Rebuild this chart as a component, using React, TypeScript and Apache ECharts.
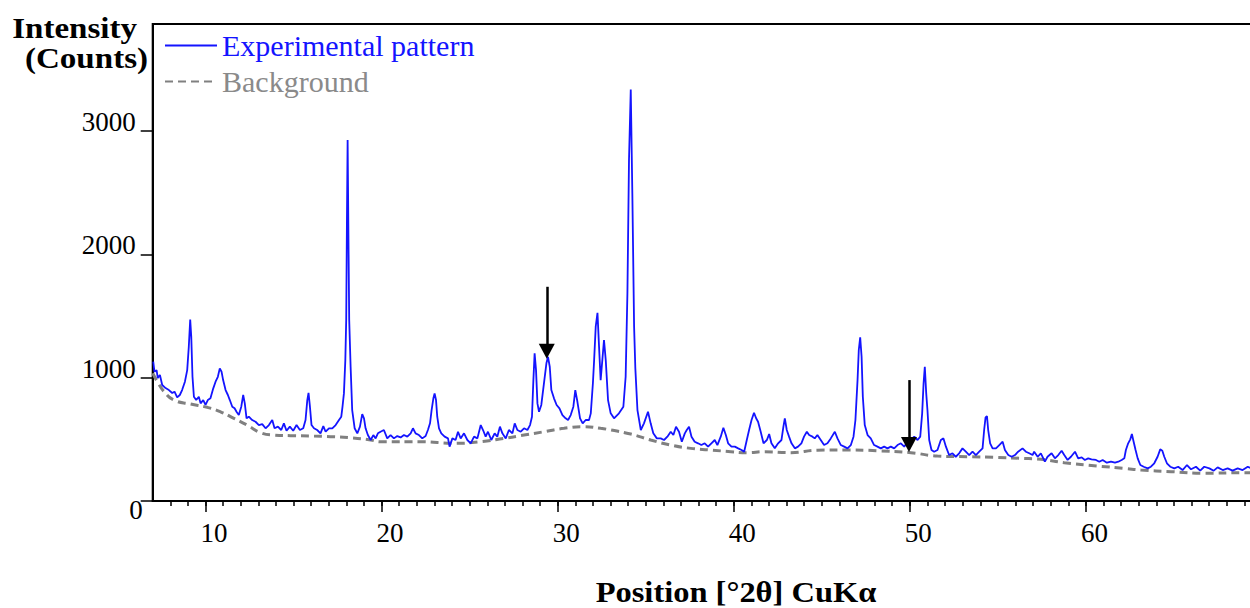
import { useEffect, useRef } from "react";
import * as echarts from "echarts";

// Measured diffraction pattern (2θ in degrees, intensity in counts)
const twoTheta = [
  7.03, 7.1, 7.22, 7.29, 7.41, 7.54, 7.73, 7.92, 8.11, 8.24, 8.39, 8.54, 8.67, 8.83, 8.96, 9.05, 9.13, 9.19, 9.26, 9.34,
  9.47, 9.62, 9.72, 9.87, 10.0, 10.13, 10.28, 10.44, 10.57, 10.7, 10.81, 10.91, 11.0, 11.14, 11.27, 11.38, 11.52, 11.65, 11.76, 11.89,
  12.03, 12.14, 12.23, 12.33, 12.46, 12.65, 12.84, 13.03, 13.22, 13.41, 13.6, 13.79, 13.92, 14.11, 14.3, 14.45, 14.6, 14.79, 14.98, 15.17,
  15.36, 15.55, 15.68, 15.78, 15.85, 15.93, 16.02, 16.16, 16.34, 16.53, 16.69, 16.82, 17.01, 17.2, 17.39, 17.58, 17.71, 17.78, 17.86, 17.94,
  17.99, 18.03, 18.07, 18.11, 18.16, 18.24, 18.33, 18.47, 18.62, 18.77, 18.9, 19.0, 19.09, 19.22, 19.38, 19.53, 19.66, 19.79, 19.94, 20.13,
  20.32, 20.51, 20.7, 20.89, 21.08, 21.27, 21.46, 21.65, 21.78, 21.93, 22.12, 22.31, 22.5, 22.63, 22.75, 22.84, 22.94, 23.01, 23.09, 23.16,
  23.26, 23.39, 23.58, 23.77, 23.86, 24.02, 24.2, 24.34, 24.49, 24.68, 24.87, 25.06, 25.25, 25.44, 25.63, 25.76, 25.91, 26.04, 26.23, 26.42,
  26.57, 26.72, 26.86, 27.05, 27.23, 27.43, 27.56, 27.71, 27.9, 28.09, 28.28, 28.43, 28.54, 28.62, 28.69, 28.77, 28.85, 28.94, 29.07, 29.22,
  29.36, 29.45, 29.55, 29.64, 29.79, 29.94, 30.1, 30.27, 30.45, 30.59, 30.74, 30.89, 31.0, 31.12, 31.27, 31.42, 31.59, 31.78, 31.88, 32.0,
  32.07, 32.16, 32.26, 32.35, 32.44, 32.54, 32.63, 32.73, 32.86, 33.01, 33.2, 33.48, 33.73, 33.86, 33.96, 34.05, 34.15, 34.24, 34.34, 34.41,
  34.53, 34.72, 34.9, 35.13, 35.28, 35.43, 35.63, 35.85, 36.04, 36.23, 36.42, 36.57, 36.72, 36.89, 37.05, 37.22, 37.33, 37.46, 37.6, 37.78,
  37.97, 38.16, 38.35, 38.54, 38.73, 38.92, 39.07, 39.26, 39.41, 39.55, 39.68, 39.87, 40.06, 40.25, 40.44, 40.59, 40.74, 40.87, 41.01, 41.15,
  41.27, 41.38, 41.53, 41.69, 41.88, 42.01, 42.14, 42.33, 42.52, 42.71, 42.82, 42.9, 43.01, 43.14, 43.28, 43.47, 43.65, 43.84, 43.99, 44.15,
  44.28, 44.47, 44.6, 44.75, 44.94, 45.13, 45.32, 45.51, 45.74, 45.89, 46.08, 46.27, 46.46, 46.65, 46.8, 46.91, 47.03, 47.1, 47.18, 47.26,
  47.33, 47.44, 47.6, 47.78, 47.97, 48.16, 48.35, 48.54, 48.73, 48.92, 49.11, 49.3, 49.49, 49.68, 49.87, 50.06, 50.25, 50.44, 50.59, 50.7,
  50.78, 50.85, 50.93, 51.0, 51.1, 51.23, 51.38, 51.57, 51.76, 51.91, 52.05, 52.23, 52.42, 52.61, 52.8, 52.99, 53.18, 53.37, 53.56, 53.75,
  53.94, 54.13, 54.22, 54.3, 54.38, 54.45, 54.56, 54.7, 54.89, 55.08, 55.27, 55.4, 55.59, 55.78, 55.97, 56.15, 56.4, 56.59, 56.78, 56.97,
  57.06, 57.26, 57.44, 57.67, 57.82, 58.05, 58.24, 58.43, 58.62, 58.77, 58.96, 59.15, 59.38, 59.56, 59.76, 59.94, 60.13, 60.32, 60.57, 60.76,
  60.95, 61.19, 61.42, 61.65, 61.84, 62.03, 62.18, 62.27, 62.4, 62.52, 62.61, 62.71, 62.82, 62.94, 63.09, 63.28, 63.51, 63.69, 63.88, 64.07,
  64.22, 64.34, 64.45, 64.6, 64.79, 65.02, 65.24, 65.49, 65.74, 65.97, 66.25, 66.49, 66.72, 67.01, 67.26, 67.48, 67.77, 68.05, 68.33, 68.62,
  68.9, 69.19, 69.38,
];

const counts = [
  1130, 1049, 1062, 997, 1022, 941, 916, 900, 876, 887, 841, 860, 900, 968, 1062, 1251, 1473, 1332, 1008, 846,
  819, 846, 792, 819, 779, 819, 833, 914, 968, 1008, 1076, 1049, 981, 900, 860, 819, 765, 752, 724, 697,
  765, 860, 792, 671, 684, 657, 643, 616, 624, 590, 616, 657, 590, 603, 576, 630, 570, 603, 570, 616,
  576, 590, 657, 819, 878, 765, 616, 590, 576, 549, 608, 562, 590, 590, 616, 657, 684, 765, 873, 1143,
  1468, 2250, 2928, 2250, 1468, 1089, 738, 590, 549, 603, 705, 671, 590, 535, 495, 535, 508, 549, 562, 576,
  508, 535, 508, 527, 516, 535, 522, 549, 590, 549, 535, 508, 527, 576, 630, 738, 833, 873, 819, 684,
  590, 549, 522, 508, 441, 508, 495, 562, 508, 549, 495, 468, 522, 508, 616, 576, 522, 562, 495, 549,
  522, 603, 549, 508, 576, 549, 630, 576, 562, 590, 576, 616, 684, 981, 1198, 1062, 792, 724, 779, 955,
  1117, 1170, 1089, 900, 833, 779, 752, 697, 671, 657, 697, 765, 900, 805, 671, 630, 657, 657, 711, 955,
  1143, 1414, 1527, 1250, 981, 1150, 1306, 1143, 819, 711, 671, 711, 765, 1008, 1684, 2766, 3339, 2495, 1414, 1076,
  738, 576, 630, 724, 630, 549, 508, 508, 495, 522, 562, 535, 603, 562, 481, 549, 576, 603, 522, 481,
  468, 454, 468, 441, 468, 495, 454, 522, 594, 535, 468, 441, 441, 427, 414, 400, 495, 576, 657, 716,
  671, 643, 562, 468, 495, 543, 468, 427, 468, 495, 603, 671, 576, 522, 468, 427, 441, 468, 522, 562,
  535, 522, 508, 535, 495, 454, 468, 508, 562, 508, 454, 441, 427, 454, 522, 657, 981, 1225, 1328, 1170,
  846, 616, 535, 508, 454, 441, 427, 441, 427, 441, 427, 454, 468, 441, 481, 495, 522, 495, 522, 711,
  955, 1089, 873, 738, 495, 414, 400, 414, 495, 508, 441, 373, 387, 359, 387, 427, 400, 373, 400, 373,
  400, 427, 576, 679, 689, 576, 468, 427, 427, 454, 481, 414, 373, 359, 373, 400, 427, 400, 387, 373,
  400, 359, 387, 319, 359, 387, 346, 373, 408, 373, 333, 359, 400, 346, 354, 333, 346, 338, 333, 319,
  333, 311, 319, 311, 319, 333, 346, 414, 468, 500, 543, 481, 414, 346, 292, 278, 265, 278, 306, 359,
  419, 408, 359, 306, 278, 265, 278, 251, 292, 257, 278, 246, 278, 265, 246, 273, 251, 265, 246, 265,
  251, 278, 265,
];

// Fitted background curve
const bgTheta = [
  7.0, 7.3, 7.63, 8.2, 9.15, 10.1, 10.85, 11.61, 12.37, 13.13, 13.88, 14.83, 15.97, 17.1, 18.24, 19.38, 19.94, 22.22, 24.11, 25.63,
  26.95, 28.09, 29.22, 30.36, 31.49, 32.44, 33.01, 34.15, 35.28, 36.42, 37.56, 38.69, 39.83, 40.78, 41.72, 43.24, 44.75, 46.27, 48.16, 50.06,
  51.57, 53.27, 54.98, 56.31, 57.44, 58.77, 60.66, 62.18, 63.13, 64.83, 66.72, 68.99, 69.4,
];
const bgCounts = [
  1036, 960, 890, 819, 787, 760, 724, 671, 616, 554, 535, 530, 527, 522, 513, 495, 481, 481, 468, 481,
  508, 535, 562, 590, 603, 590, 576, 543, 495, 454, 427, 414, 400, 392, 400, 392, 412, 414, 408, 392,
  365, 359, 354, 346, 338, 311, 284, 265, 251, 238, 225, 230, 228,
];

const xMajorTicks = [10, 20, 30, 40, 50, 60];
const xMinorTicks = [
  8, 9, 10, 11, 12, 13, 14, 15, 16, 17, 18, 19, 20, 21, 22, 23, 24, 25, 26, 27, 28, 29, 30, 31, 32, 33, 34, 35, 36, 37, 38,
  39, 40, 41, 42, 43, 44, 45, 46, 47, 48, 49, 50, 51, 52, 53, 54, 55, 56, 57, 58, 59, 60, 61, 62, 63, 64, 65, 66, 67, 68, 69,
];
const yTicks = [0, 1000, 2000, 3000];

// Arrows marking reflections of interest: position, tail and head intensity
const arrowTheta = [29.38, 49.95];
const arrowTail = [1738, 981];
const arrowHead = [1214, 458];

const SERIF = "'Liberation Serif', 'Times New Roman', serif";
const BLUE = "#1414ff";
const GRAY = "#808080";

export default function App() {
  const ref = useRef<HTMLDivElement>(null);

  useEffect(() => {
    if (!ref.current) return;
    const chart = echarts.init(ref.current, undefined, { renderer: "svg" });

    const pattern = twoTheta.map((t, i) => [t, counts[i]]);
    const background = bgTheta.map((t, i) => [t, bgCounts[i]]);
    const arrows = arrowTheta.map((t, i) => [
      { coord: [t, arrowTail[i]] },
      { coord: [t, arrowHead[i]] },
    ]);

    chart.setOption({
      animation: false,
      backgroundColor: "#ffffff",
      grid: {
        left: 152.7,
        right: 0,
        top: 24,
        bottom: 107,
        show: true,
        borderColor: "#000",
        borderWidth: 2,
      },
      legend: {
        orient: "vertical",
        left: 159,
        top: 24,
        // a tiny item height keeps the legend marker to a plain line sample
        itemWidth: 52,
        itemHeight: 1,
        itemGap: 3,
        selectedMode: false,
        textStyle: { fontFamily: SERIF, fontSize: 30, lineHeight: 33 },
        data: [
          { name: "Experimental pattern", textStyle: { color: BLUE } },
          { name: "Background", textStyle: { color: "#8a8a8a" } },
        ],
      },
      xAxis: [
        {
          type: "value",
          min: 7,
          max: 70,
          position: "bottom",
          axisLine: { show: true, onZero: false, lineStyle: { color: "#000", width: 2 } },
          axisTick: { show: true, customValues: xMajorTicks, length: 11, lineStyle: { color: "#000", width: 1.5 } },
          axisLabel: {
            customValues: xMajorTicks,
            margin: 18,
            color: "#000",
            fontFamily: SERIF,
            fontSize: 27,
            padding: [0, 0, 0, 17],
          },
          splitLine: { show: false },
        },
        {
          type: "value",
          min: 7,
          max: 70,
          position: "bottom",
          axisLine: { show: false },
          axisTick: { show: true, customValues: xMinorTicks, length: 5, lineStyle: { color: "#000", width: 1.5 } },
          axisLabel: { show: false },
          splitLine: { show: false },
        },
      ],
      yAxis: {
        type: "value",
        min: 0,
        max: 3870,
        interval: 1000,
        axisLine: { show: true, onZero: false, lineStyle: { color: "#000", width: 2 } },
        axisTick: { show: true, customValues: yTicks, length: 12, lineStyle: { color: "#000", width: 1.5 } },
        axisLabel: {
          customValues: yTicks,
          margin: 10,
          formatter: (v: number) => (v === 0 ? "{z|0}" : "{n|" + v + "}"),
          rich: {
            n: { fontFamily: SERIF, fontSize: 27, color: "#000", padding: [0, 7, 18, 0] },
            z: { fontFamily: SERIF, fontSize: 27, color: "#000", padding: [18, 0, 0, 0] },
          },
        },
        splitLine: { show: false },
      },
      series: [
        {
          name: "Background",
          type: "line",
          data: background,
          smooth: true,
          symbol: "none",
          z: 2,
          itemStyle: { color: GRAY },
          lineStyle: { color: GRAY, width: 3, type: [8, 5] },
        },
        {
          name: "Experimental pattern",
          type: "line",
          data: pattern,
          symbol: "none",
          z: 3,
          itemStyle: { color: BLUE },
          lineStyle: { color: BLUE, width: 1.8 },
          markLine: {
            silent: true,
            symbol: ["none", "triangle"],
            symbolSize: [16, 15],
            label: { show: false },
            lineStyle: { color: "#000", width: 2.5, type: "solid" },
            emphasis: { disabled: true },
            data: arrows,
          },
        },
      ],
      graphic: [
        {
          type: "text",
          x: 137,
          y: 28,
          scaleX: 1.14,
          style: {
            text: "Intensity",
            fontFamily: SERIF,
            fontSize: 29,
            fontWeight: "bold",
            fill: "#000",
            align: "right",
            verticalAlign: "middle",
          },
        },
        {
          type: "text",
          x: 148,
          y: 58,
          scaleX: 1.14,
          style: {
            text: "(Counts)",
            fontFamily: SERIF,
            fontSize: 29,
            fontWeight: "bold",
            fill: "#000",
            align: "right",
            verticalAlign: "middle",
          },
        },
        {
          type: "text",
          x: 736,
          y: 593,
          scaleX: 1.12,
          style: {
            text: "Position [°2θ] CuKα",
            fontFamily: SERIF,
            fontSize: 29,
            fontWeight: "bold",
            fill: "#000",
            align: "center",
            verticalAlign: "middle",
          },
        },
      ],
    });

    return () => chart.dispose();
  }, []);

  return (
    <div style={{ position: "fixed", left: 0, top: 0, width: 1250, height: 608, overflow: "hidden", background: "#fff" }}>
      <div ref={ref} style={{ position: "absolute", left: 0, top: 0, width: 1262, height: 608 }} />
    </div>
  );
}
